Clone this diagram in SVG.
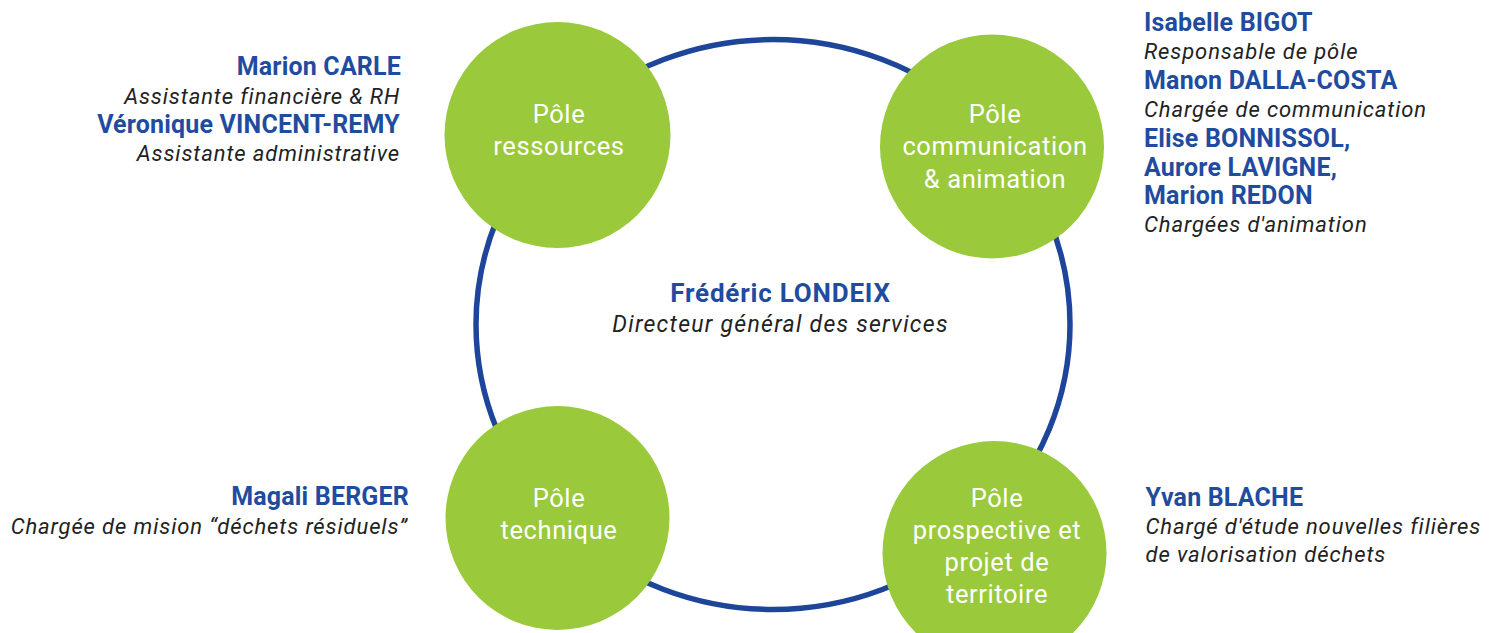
<svg xmlns="http://www.w3.org/2000/svg" width="1502" height="633" viewBox="0 0 1502 633">
<style>
.pole{fill:#9aca3c}
.pt{font-family:Roboto,"Liberation Sans",sans-serif;font-size:25.5px;letter-spacing:0.6px;fill:#ffffff;text-anchor:middle}
.nm{font-family:Roboto,"Liberation Sans",sans-serif;font-weight:700;font-size:25px;letter-spacing:0.18px;fill:#1f4c9f}
.ds{font-family:Roboto,"Liberation Sans",sans-serif;font-style:italic;font-size:22px;letter-spacing:0.9px;fill:#222222}
.cn{font-size:26px;letter-spacing:0.8px}
.cd{font-size:23px;letter-spacing:1.27px}
.r{text-anchor:end}
.m{text-anchor:middle}
</style>
<rect width="1502" height="633" fill="#ffffff"/>
<g id="connectors">
<ellipse cx="773" cy="324.5" rx="297" ry="285" fill="none" stroke="#1d4599" stroke-width="5.5"/>
</g>
<g id="pole-ressources">
<circle class="pole" cx="557.5" cy="135" r="113"/>
<text class="pt" x="559" y="123">Pôle</text>
<text class="pt" x="559" y="155">ressources</text>
</g>
<g id="pole-communication">
<circle class="pole" cx="992" cy="146.5" r="112"/>
<text class="pt" x="995" y="123">Pôle</text>
<text class="pt" x="995" y="155">communication</text>
<text class="pt" x="995" y="187.5">&amp; animation</text>
</g>
<g id="pole-technique">
<circle class="pole" cx="557.5" cy="518" r="112"/>
<text class="pt" x="559" y="506.5">Pôle</text>
<text class="pt" x="559" y="539">technique</text>
</g>
<g id="pole-prospective">
<circle class="pole" cx="994.5" cy="553" r="112"/>
<text class="pt" x="997" y="506.5">Pôle</text>
<text class="pt" x="997" y="539">prospective et</text>
<text class="pt" x="997" y="571">projet de</text>
<text class="pt" x="997" y="602.5">territoire</text>
</g>
<g id="directeur">
<text class="nm cn m" x="780.5" y="302">Frédéric LONDEIX</text>
<text class="ds cd m" x="780.5" y="331.5">Directeur général des services</text>
</g>
<g id="staff-ressources">
<text class="nm r" x="401" y="75">Marion CARLE</text>
<text class="ds r" x="400" y="103.5">Assistante financière &amp; RH</text>
<text class="nm r" x="400" y="132.5">Véronique VINCENT-REMY</text>
<text class="ds r" x="400" y="160.5">Assistante administrative</text>
</g>
<g id="staff-communication">
<text class="nm" x="1144" y="30.5">Isabelle BIGOT</text>
<text class="ds" x="1144" y="59">Responsable de pôle</text>
<text class="nm" x="1144" y="89">Manon DALLA-COSTA</text>
<text class="ds" x="1144" y="117">Chargée de communication</text>
<text class="nm" x="1144" y="147">Elise BONNISSOL,</text>
<text class="nm" x="1144" y="175.5">Aurore LAVIGNE,</text>
<text class="nm" x="1144" y="204">Marion REDON</text>
<text class="ds" x="1144" y="232">Chargées d'animation</text>
</g>
<g id="staff-technique">
<text class="nm r" x="409" y="505">Magali BERGER</text>
<text class="ds r" x="408" y="534">Chargée de mision “déchets résiduels”</text>
</g>
<g id="staff-prospective">
<text class="nm" x="1145.5" y="505.5">Yvan BLACHE</text>
<text class="ds" x="1145.5" y="534">Chargé d'étude nouvelles filières</text>
<text class="ds" x="1145.5" y="562">de valorisation déchets</text>
</g>
</svg>
